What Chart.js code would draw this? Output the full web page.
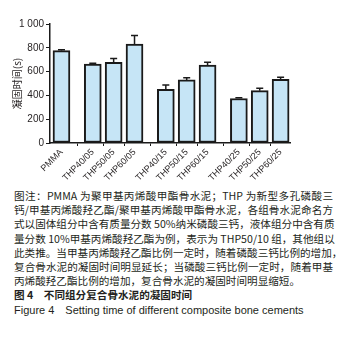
<!DOCTYPE html>
<html>
<head>
<meta charset="utf-8">
<script src="https://cdn.jsdelivr.net/npm/chart.js@4"></script>
<style>
  html, body { margin: 0; padding: 0; background: #fff; }
  body { width: 346px; height: 339px; overflow: hidden; }
  #chart-wrap { position: relative; width: 346px; height: 189px; }
  #caption {
    margin: 0 13px 0 14px;
    font-family: "Noto Sans CJK SC", "Noto Sans", sans-serif;
    font-size: 10.6px;
    line-height: 14.2px;
    color: #231f20;
  }
  #caption .j { text-align: justify; text-align-last: justify; white-space: nowrap; }
  #caption .b { font-weight: bold; }
  #caption .en { font-family: "Liberation Sans", Arial, sans-serif; font-size: 11px; }
</style>
</head>
<body>
<div id="chart-wrap"><canvas id="grafico"></canvas></div>
<div id="caption">
  <div class="j">图注：PMMA 为聚甲基丙烯酸甲酯骨水泥；THP 为新型多孔磷酸三</div>
  <div class="j">钙/甲基丙烯酸羟乙酯/聚甲基丙烯酸甲酯骨水泥，各组骨水泥命名方</div>
  <div class="j">式以固体组分中含有质量分数 50%纳米磷酸三钙，液体组分中含有质</div>
  <div class="j">量分数 10%甲基丙烯酸羟乙酯为例，表示为 THP50/10 组，其他组以</div>
  <div class="j">此类推。当甲基丙烯酸羟乙酯比例一定时，随着磷酸三钙比例的增加，</div>
  <div class="j">复合骨水泥的凝固时间明显延长；当磷酸三钙比例一定时，随着甲基</div>
  <div>丙烯酸羟乙酯比例的增加，复合骨水泥的凝固时间明显缩短。</div>
  <div class="b">图 4&emsp;不同组分复合骨水泥的凝固时间</div>
  <div class="en">Figure 4&emsp;Setting time of different composite bone cements</div>
</div>
<script>
/* *****
Datos del grafico
***** */

// grupos de barras (PMMA solo, luego 3 grupos de THP)
const grupos = [
    ['PMMA'],
    ['THP40/05', 'THP50/05', 'THP60/05'],
    ['THP40/15', 'THP50/15', 'THP60/15'],
    ['THP40/25', 'THP50/25', 'THP60/25']
];
// tiempo de fraguado (s)
const tiempos = [776, 663, 678, 832, 452, 530, 655, 374, 440, 535];
// desviacion (solo hacia arriba)
const errores = [8, 7, 33, 72, 35, 18, 24, 6, 21, 18];
const yTicks = [0, 200, 400, 600, 800, 1000];

// posicion de cada barra: 1 por barra, medio espacio extra entre grupos
const etiquetas = [];
const posiciones = [];
let pos = 0;
grupos.forEach((g, i) => {
    if (i > 0) pos += 0.5;
    g.forEach((nombre) => {
        etiquetas.push(nombre);
        posiciones.push(pos);
        pos += 1;
    });
});
const puntos = tiempos.map((v, i) => ({ x: posiciones[i], y: v }));

/* *****
plugin para las barras de error
***** */
const barrasError = {
    id: 'barrasError',
    afterDatasetsDraw(chart) {
        const ctx = chart.ctx;
        const yScale = chart.scales.y;
        const meta = chart.getDatasetMeta(0);
        ctx.save();
        ctx.strokeStyle = '#1a1a1a';
        ctx.lineWidth = 1.5;
        meta.data.forEach((bar, i) => {
            const yTop = yScale.getPixelForValue(tiempos[i] + errores[i]);
            const yBase = yScale.getPixelForValue(tiempos[i]);
            ctx.beginPath();
            ctx.moveTo(bar.x, yBase);
            ctx.lineTo(bar.x, yTop);
            ctx.moveTo(bar.x - 3.5, yTop);
            ctx.lineTo(bar.x + 3.5, yTop);
            ctx.stroke();
        });
        ctx.restore();
    }
};

const fuente = { family: "'Liberation Sans', Arial, sans-serif", size: 10 };

const config = {
    type: 'bar',
    data: {
        datasets: [{
            data: puntos,
            backgroundColor: '#c6e5f6',
            borderColor: '#1a1a1a',
            borderWidth: 2,
            borderSkipped: false,
            barThickness: 17
        }]
    },
    options: {
        responsive: true,
        maintainAspectRatio: false,
        animation: false,
        layout: { padding: { top: 24, right: 56, left: 11, bottom: 1 } },
        plugins: { legend: { display: false }, tooltip: { enabled: false } },
        scales: {
            x: {
                type: 'linear',
                min: -0.55,
                max: 10.95,
                offset: false,
                afterFit: (axis) => { axis.height = 45; },
                afterBuildTicks: (axis) => {
                    axis.ticks = posiciones.map((v) => ({ value: v }));
                },
                ticks: {
                    autoSkip: false,
                    minRotation: 45,
                    maxRotation: 45,
                    padding: 1,
                    color: '#231f20',
                    font: { family: "'Liberation Sans', Arial, sans-serif", size: 9 },
                    callback: (v, i) => etiquetas[i]
                },
                grid: { display: true, drawOnChartArea: false, drawTicks: true, tickLength: 3, color: '#1a1a1a', lineWidth: 1 },
                border: { display: true, color: '#1a1a1a', width: 1.5 }
            },
            y: {
                min: 0,
                max: 1000,
                afterFit: (axis) => { axis.width = 39; },
                afterBuildTicks: (axis) => {
                    axis.ticks = yTicks.map((v) => ({ value: v }));
                },
                ticks: {
                    padding: 2,
                    color: '#231f20',
                    font: fuente,
                    callback: (v) => v >= 1000 ? '1 000' : String(v)
                },
                grid: { display: true, drawOnChartArea: false, drawTicks: true, tickLength: 4, color: '#1a1a1a', lineWidth: 1 },
                border: { display: true, color: '#1a1a1a', width: 1.5 },
                title: {
                    display: true,
                    text: '凝固时间(s)',
                    color: '#231f20',
                    padding: { top: 0, bottom: 3 },
                    font: { family: "'Noto Sans CJK SC', sans-serif", size: 10 }
                }
            }
        }
    },
    plugins: [barrasError]
};

const mychart = new Chart(document.getElementById('grafico'), config);
</script>
</body>
</html>
